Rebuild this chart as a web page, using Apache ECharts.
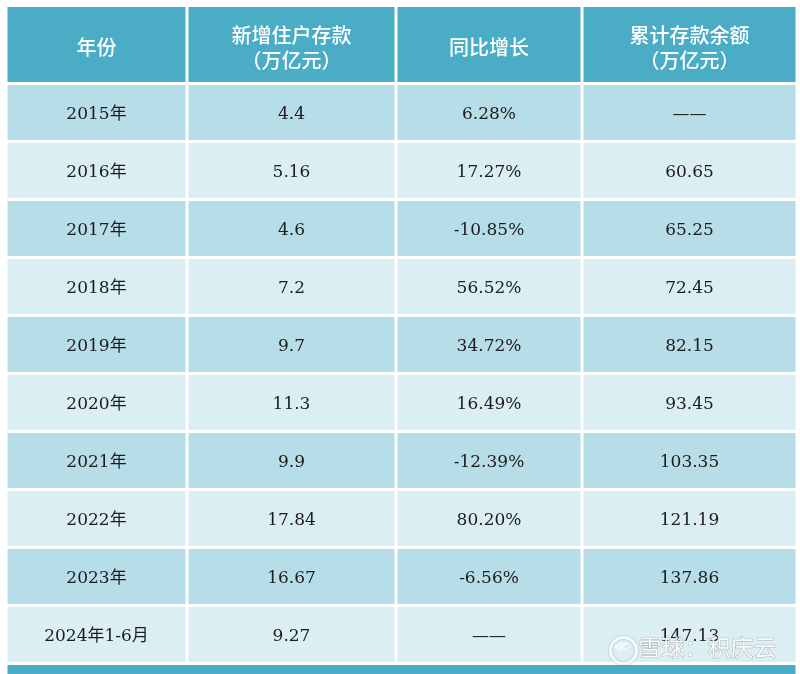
<!DOCTYPE html>
<html>
<head>
<meta charset="utf-8">
<script src="https://cdn.jsdelivr.net/npm/echarts@6/dist/echarts.min.js"></script>
<style>html,body{margin:0;padding:0;background:#fff;}#c{width:800px;height:674px;}</style>
</head>
<body>
<div id="c"></div>
<script>
// ---- data ----
const headers = ['年份', '新增住户存款\n（万亿元）', '同比增长', '累计存款余额\n（万亿元）'];
const years = ['2015年', '2016年', '2017年', '2018年', '2019年', '2020年', '2021年', '2022年', '2023年', '2024年1-6月'];
const newDeposits = [4.4, 5.16, 4.6, 7.2, 9.7, 11.3, 9.9, 17.84, 16.67, 9.27];
const yoyGrowth = [6.28, 17.27, -10.85, 56.52, 34.72, 16.49, -12.39, 80.20, -6.56, null];
const totalBalance = [null, 60.65, 65.25, 72.45, 82.15, 93.45, 103.35, 121.19, 137.86, 147.13];

// ---- layout (not data) ----
const colEdges = [0, 181, 390, 576, 791];
const HEADER_H = 1.345;
const Y_MAX = 11.526;

function rowSpan(r) {
  if (r === 0) return [0, HEADER_H];
  if (r <= years.length) return [HEADER_H + r - 1, HEADER_H + r];
  return [HEADER_H + years.length, Y_MAX + 1];
}

const cells = [];
headers.forEach((h, c) => cells.push({ value: [c, 0], text: h }));
years.forEach((y, i) => {
  const r = i + 1;
  cells.push({ value: [0, r], text: y });
  cells.push({ value: [1, r], text: String(newDeposits[i]) });
  cells.push({ value: [2, r], text: yoyGrowth[i] == null ? '——' : yoyGrowth[i].toFixed(2) + '%' });
  cells.push({ value: [3, r], text: totalBalance[i] == null ? '——' : totalBalance[i].toFixed(2) });
});
cells.push({ value: [-1, years.length + 1], text: '' });

const chart = echarts.init(document.getElementById('c'));
chart.setOption({
  animation: false,
  backgroundColor: '#ffffff',
  grid: { left: 6, right: 3, top: 5.5, bottom: 0 },
  xAxis: { type: 'value', min: 0, max: 791, show: false },
  yAxis: { type: 'value', min: 0, max: Y_MAX, inverse: true, show: false },
  series: [{
    type: 'custom',
    clip: false,
    z: 2,
    data: cells,
    renderItem: function (params, api) {
      const c = api.value(0), r = api.value(1);
      const item = cells[params.dataIndex];
      const span = rowSpan(r);
      const x0 = c < 0 ? colEdges[0] : colEdges[c];
      const x1 = c < 0 ? colEdges[colEdges.length - 1] : colEdges[c + 1];
      const p0 = api.coord([x0, span[0]]);
      const p1 = api.coord([x1, span[1]]);
      const isHead = r === 0 || r > years.length;
      const fill = isHead ? '#4BACC6' : (r % 2 === 1 ? '#B6DDE8' : '#DAEEF3');
      const rect = {
        x: p0[0] + 1.5, y: p0[1] + 1.5,
        width: p1[0] - p0[0] - 3, height: p1[1] - p0[1] - 3
      };
      const textStyle = r === 0 ? {
        text: item.text, fill: '#ffffff', fontSize: 20, fontWeight: 500,
        fontFamily: '"Noto Sans CJK SC", sans-serif', lineHeight: 25,
        align: 'center', verticalAlign: 'middle'
      } : {
        text: item.text, fill: '#1c1c1c', fontSize: 17,
        fontFamily: '"DejaVu Serif", "Noto Sans CJK SC", serif',
        align: 'center', verticalAlign: 'middle'
      };
      return {
        type: 'rect',
        shape: rect,
        style: { fill: fill },
        textContent: { style: textStyle },
        textConfig: { position: 'inside', offset: [0, r === 0 ? 3 : 2] }
      };
    }
  }],
  graphic: [
    { type: 'circle', z: 100, left: 608, top: 635, shape: { r: 13 }, style: { fill: 'none', stroke: 'rgba(255,255,255,0.92)', lineWidth: 3, shadowColor: 'rgba(0,0,0,0.3)', shadowBlur: 2 } },
    { type: 'text', z: 100, left: 614, top: 640, style: { text: '≪', fontSize: 14, fontWeight: 'bold', fontFamily: '"DejaVu Sans", sans-serif', fill: 'rgba(255,255,255,0.92)' } },
    { type: 'text', z: 100, left: 638, top: 635, style: { text: '雪球：积庆云', fontSize: 23, fontFamily: '"Noto Sans CJK SC", sans-serif', fill: 'rgba(255,255,255,0.9)', stroke: 'rgba(100,100,100,0.4)', lineWidth: 1 } }
  ]
});
</script>
</body>
</html>
